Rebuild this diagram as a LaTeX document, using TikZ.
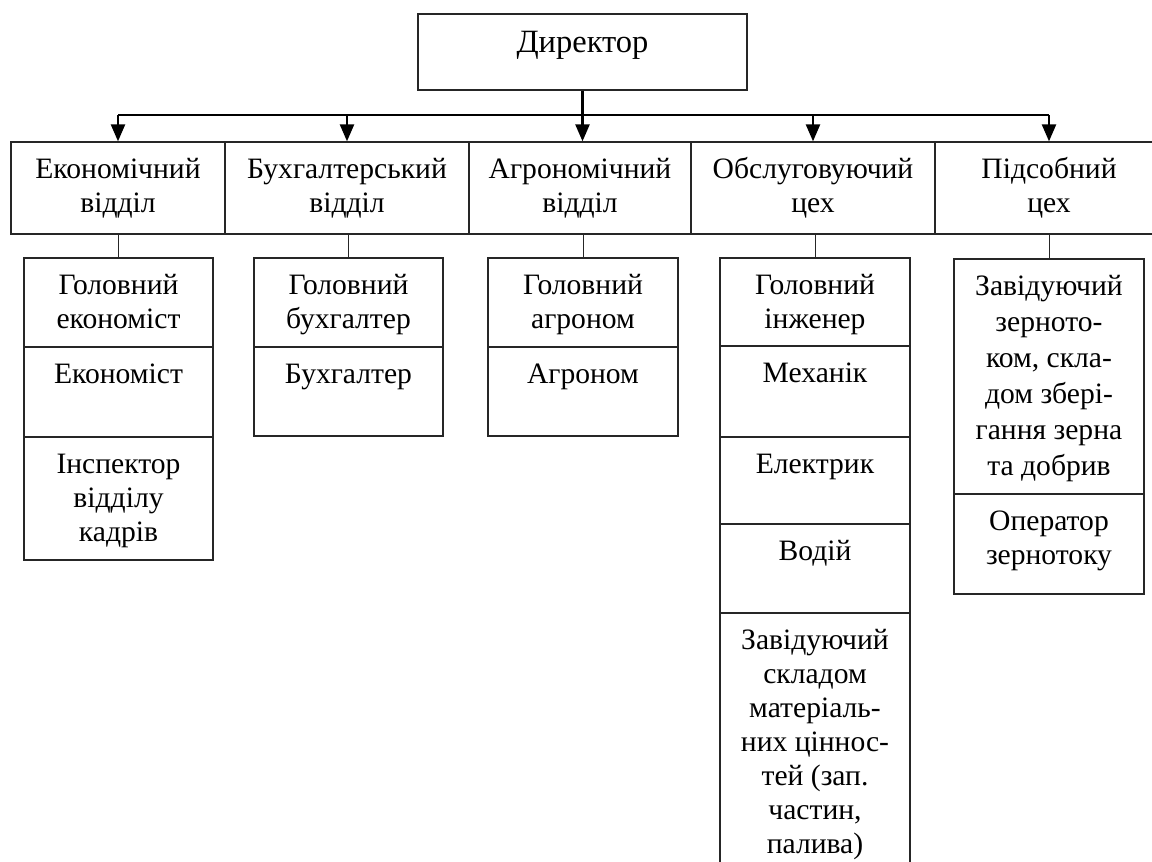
\documentclass[tikz,border=0pt]{standalone}
\usepackage{fontspec}
\setmainfont{Liberation Serif}
\usetikzlibrary{arrows.meta}

\tikzset{
  cellbox/.style={draw=black!85, line width=1.3pt, inner sep=0pt},
  celltext/.style={anchor=north, inner sep=0pt, align=center, font=\fontsize{29.6}{34}\selectfont},
  arr/.style={line width=2.4pt, -{Triangle[length=17pt,width=14pt]}},
  busline/.style={line width=2.2pt},
  link/.style={line width=1pt, draw=black!85},
}

% cell: [text opts], name, left, top, right, bottom, text
\newcommand{\cell}[7][]{%
  \node[cellbox, minimum width={#5-#3}, minimum height={#6-#4}] (#2) at ({(#3+#5)/2},{(#4+#6)/2}) {};
  \node[celltext,#1] (#2t) at ([yshift=-13pt]#2.north) {\strut #7};}

\begin{document}
\begin{tikzpicture}[x=1pt,y=-1pt]
\useasboundingbox (0,0) rectangle (1152,862);

% top
\cell[font=\fontsize{32.5}{34}\selectfont, yshift=-2pt]{dir}{418}{14}{747}{90}{Директор}

% departments
\cell{econ}{11}{142}{225}{234}{Економічний\\відділ}
\cell{buh}{225}{142}{469}{234}{Бухгалтерський\\відділ}
\cell{agro}{469}{142}{691}{234}{Агрономічний\\відділ}
\cell{obsl}{691}{142}{935}{234}{Обслуговуючий\\цех}
\cell{pids}{935}{142}{1163}{234}{Підсобний\\цех}

% staff
\cell{econ1}{24}{258}{213}{347}{Головний\\економіст}
\cell{econ2}{24}{347}{213}{437}{Економіст}
\cell{econ3}{24}{437}{213}{560}{Інспектор\\відділу\\кадрів}

\cell{buh1}{254}{258}{443}{347}{Головний\\бухгалтер}
\cell{buh2}{254}{347}{443}{436}{Бухгалтер}

\cell{agro1}{488}{258}{678}{347}{Головний\\агроном}
\cell{agro2}{488}{347}{678}{436}{Агроном}

\cell{obsl1}{720}{258}{910}{346}{Головний\\інженер}
\cell{obsl2}{720}{346}{910}{437}{Механік}
\cell{obsl3}{720}{437}{910}{524}{Електрик}
\cell{obsl4}{720}{524}{910}{613}{Водій}
\cell{obsl5}{720}{613}{910}{880}{Завідуючий\\складом\\матеріаль-\\них ціннос-\\тей (зап.\\частин,\\палива)}

\cell{pids1}{954}{259}{1144}{494}{Завідуючий\\[2pt]зерното-\\[2pt]ком, скла-\\[2pt]дом збері-\\[2pt]гання зерна\\[2pt]та добрив}
\cell{pids2}{954}{494}{1144}{594}{Оператор\\зернотоку}

% connectors
\coordinate (bus) at (0,115);
\draw[arr] (dir.south) -- (dir.south |- agro.north);
\draw[busline] (econ.north |- bus) -- (pids.north |- bus);
\foreach \d in {econ,buh,obsl,pids}
  \draw[arr] (\d.north |- bus) -- (\d.north);
\foreach \d in {econ,buh,agro,obsl,pids}
  \draw[link] (\d1.north |- \d.south) -- (\d1.north);
\end{tikzpicture}
\end{document}
